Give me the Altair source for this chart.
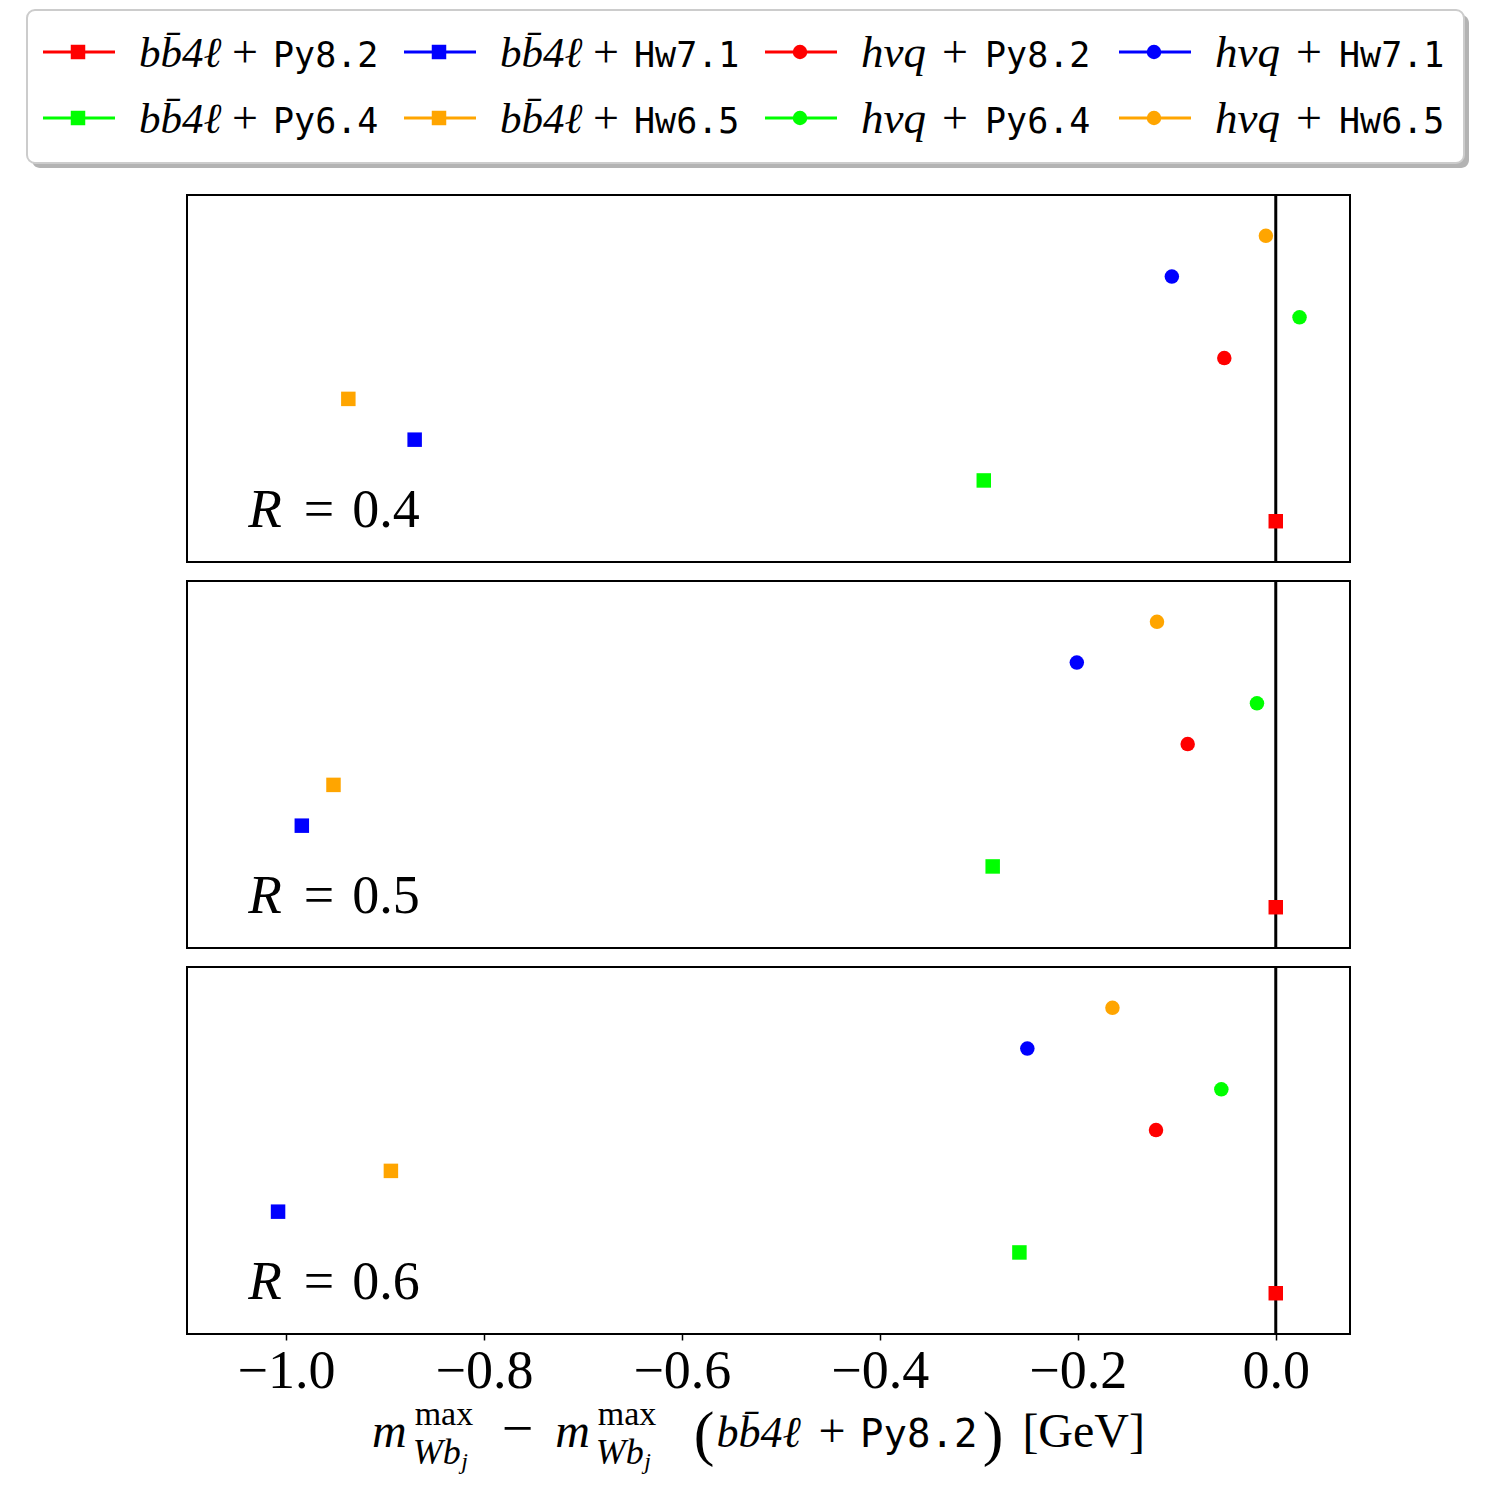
import altair as alt
import pandas as pd

# ---------------- data ----------------
generators = ["bb4l+Py8.2", "bb4l+Py6.4", "bb4l+Hw7.1", "bb4l+Hw6.5",
              "hvq+Py8.2", "hvq+Py6.4", "hvq+Hw7.1", "hvq+Hw6.5"]
gen_math = ["bb\u0304" + "4\u2113"] * 4 + ["hvq"] * 4
gen_tt = ["Py8.2", "Py6.4", "Hw7.1", "Hw6.5"] * 2
gen_kind = ["bb4l"] * 4 + ["hvq"] * 4
gen_colors = ["#ff0000", "#00ff00", "#0000ff", "#ffa500"] * 2
radii = ["0.4", "0.5", "0.6"]
shift_R04 = [0.000, -0.295, -0.870, -0.937, -0.052, 0.024, -0.105, -0.010]
shift_R05 = [0.000, -0.286, -0.984, -0.952, -0.089, -0.019, -0.201, -0.120]
shift_R06 = [0.000, -0.259, -1.008, -0.894, -0.121, -0.055, -0.251, -0.165]
x_ticks = [-1.0, -0.8, -0.6, -0.4, -0.2, 0.0]

# ---------------- layout / style ----------------
SERIF = "Liberation Serif"
MONO = "DejaVu Sans Mono"
X_DOMAIN = [-1.1, 0.075]
Y_DOMAIN = [-1, 8]
PW, PH = 1163, 367
LW, LH = 1445, 168
LEFT = 160  # legend box starts this far left of the panels

STYLES = {
    "it55": dict(font=SERIF, fontSize=55, fontStyle="italic"),
    "rm54": dict(font=SERIF, fontSize=54),
    "it48": dict(font=SERIF, fontSize=48, fontStyle="italic"),
    "it44": dict(font=SERIF, fontSize=44, fontStyle="italic"),
    "rm48": dict(font=SERIF, fontSize=48),
    "rm56": dict(font=SERIF, fontSize=56),
    "rm62": dict(font=SERIF, fontSize=62),
    "rm34": dict(font=SERIF, fontSize=34),
    "it36": dict(font=SERIF, fontSize=36, fontStyle="italic"),
    "it24": dict(font=SERIF, fontSize=24, fontStyle="italic"),
    "tt39": dict(font=MONO, fontSize=39),
    "it45": dict(font=SERIF, fontSize=45, fontStyle="italic"),
    "it43": dict(font=SERIF, fontSize=43, fontStyle="italic"),
    "rm46": dict(font=SERIF, fontSize=46),
    "tt35": dict(font=MONO, fontSize=35),
}


def ypx(px):
    """pixel offset from a panel's top -> y data units"""
    return Y_DOMAIN[1] - px * (Y_DOMAIN[1] - Y_DOMAIN[0]) / PH


def text_layers(pieces, xenc, yenc):
    d = pd.DataFrame(pieces, columns=["text", "x", "y", "style"])
    layers = []
    for st in dict.fromkeys(d["style"]):
        grp = d[d["style"] == st]
        layers.append(
            alt.Chart(grp).mark_text(align="left", baseline="alphabetic",
                                     color="black", **STYLES[st])
            .encode(x=xenc("x"), y=yenc("y"), text="text:N")
        )
    return layers


color_scale = alt.Scale(domain=generators, range=gen_colors)
shape_scale = alt.Scale(domain=["bb4l", "hvq"], range=["square", "circle"])

rows = []
for R, vals in zip(radii, [shift_R04, shift_R05, shift_R06]):
    for i, (g, v) in enumerate(zip(generators, vals)):
        rows.append({"R": R, "gen": g, "kind": gen_kind[i], "row": i, "shift": v})
df = pd.DataFrame(rows)

xscale = alt.Scale(domain=X_DOMAIN, nice=False, zero=False)
yscale = alt.Scale(domain=Y_DOMAIN, nice=False, zero=False)


def panel(R, bottom):
    if bottom:
        xaxis = alt.Axis(values=x_ticks, format=".1f", labelFont=SERIF,
                         labelFontSize=54, labelColor="black", tickColor="black",
                         tickSize=6, tickWidth=1.5, domain=False, grid=False,
                         labelPadding=4, title=None)
    else:
        xaxis = None

    def xenc(f):
        return alt.X(f"{f}:Q", scale=xscale, axis=xaxis)

    def yenc(f):
        return alt.Y(f"{f}:Q", scale=yscale, axis=None)

    rule = alt.Chart(pd.DataFrame({"x": [0.0]})).mark_rule(
        color="black", strokeWidth=3).encode(x=xenc("x"))
    pts = alt.Chart(df[df["R"] == R]).mark_point(
        filled=True, size=210, opacity=1).encode(
        x=xenc("shift"), y=yenc("row"),
        color=alt.Color("gen:N", scale=color_scale, legend=None),
        shape=alt.Shape("kind:N", scale=shape_scale, legend=None),
    )
    pieces = [
        ("R", -1.038, ypx(332), "it55"),
        ("=", -0.982, ypx(332), "rm54"),
        (R, -0.933, ypx(332), "rm54"),
    ]
    if bottom:
        base, sup, sub, subsub = ypx(480), ypx(458), ypx(497), ypx(502)
        pieces += [
            ("m", -0.913, base, "it48"),
            ("max", -0.870, sup, "rm34"),
            ("Wb", -0.872, sub, "it36"),
            ("j", -0.823, subsub, "it24"),
            ("\u2212", -0.782, base, "rm56"),
            ("m", -0.728, base, "it48"),
            ("max", -0.685, sup, "rm34"),
            ("Wb", -0.687, sub, "it36"),
            ("j", -0.638, subsub, "it24"),
            ("(", -0.588, ypx(487), "rm62"),
            ("bb\u0304" + "4\u2113", -0.565, base, "it44"),
            ("+", -0.462, base, "rm48"),
            ("Py8.2", -0.420, base, "tt39"),
            (")", -0.296, ypx(487), "rm62"),
            ("[GeV]", -0.256, base, "rm48"),
        ]
    layers = [rule, pts] + text_layers(pieces, xenc, yenc)
    return alt.layer(*layers).properties(width=PW, height=PH)


# ---------------- legend (drawn as its own small chart) ----------------
lx = alt.Scale(domain=[0, LW], range=[-LEFT, LW - LEFT], nice=False, zero=False)
ly = alt.Scale(domain=[LH, 0], nice=False, zero=False)


def lxe(f):
    return alt.X(f"{f}:Q", scale=lx, axis=None)


def lye(f):
    return alt.Y(f"{f}:Q", scale=ly, axis=None)


LEG_COL_X = [16, 377, 738, 1092]
LEG_ROW_Y = [42, 108]
leg_rows = []
text_pieces = []
for i, g in enumerate(generators):
    col, row = i // 2, i % 2
    x0 = LEG_COL_X[col]
    yl = LEG_ROW_Y[row]
    leg_rows.append({"gen": g, "kind": gen_kind[i], "x0": x0, "x1": x0 + 72,
                     "xm": x0 + 35, "y": yl})
    tx = x0 + 96
    if gen_kind[i] == "bb4l":
        plus_off, mono_off, mstyle = 93, 134, "it43"
    else:
        plus_off, mono_off, mstyle = 81, 124, "it45"
    text_pieces += [
        (gen_math[i], tx, yl + 15, mstyle),
        ("+", tx + plus_off, yl + 15, "rm46"),
        (gen_tt[i], tx + mono_off, yl + 15, "tt35"),
    ]
leg_df = pd.DataFrame(leg_rows)

box_df = pd.DataFrame({"x": [5, 0], "x2": [1442, 1437], "y": [5, 0], "y2": [158, 153],
                       "part": ["shadow", "box"]})
shadow = alt.Chart(box_df[box_df.part == "shadow"]).mark_rect(
    cornerRadius=8, fill="#a0a0a0", opacity=0.8).encode(
    x=lxe("x"), x2="x2:Q", y=lye("y"), y2="y2:Q")
box = alt.Chart(box_df[box_df.part == "box"]).mark_rect(
    cornerRadius=8, fill="white", stroke="#cccccc", strokeWidth=2).encode(
    x=lxe("x"), x2="x2:Q", y=lye("y"), y2="y2:Q")
leg_lines = alt.Chart(leg_df).mark_rule(strokeWidth=3).encode(
    x=lxe("x0"), x2="x1:Q", y=lye("y"),
    color=alt.Color("gen:N", scale=color_scale, legend=None))
leg_marks = alt.Chart(leg_df).mark_point(filled=True, size=210, opacity=1).encode(
    x=lxe("xm"), y=lye("y"),
    color=alt.Color("gen:N", scale=color_scale, legend=None),
    shape=alt.Shape("kind:N", scale=shape_scale, legend=None))

legend = alt.layer(
    shadow, box, leg_lines, leg_marks, *text_layers(text_pieces, lxe, lye)
).properties(width=PW, height=LH, view=alt.ViewBackground(stroke="transparent"))

chart = alt.vconcat(
    legend, panel("0.4", False), panel("0.5", False), panel("0.6", True),
    spacing=13,
).properties(
    padding={"left": 25, "top": 8, "right": 10, "bottom": 10},
    background="white",
).configure_view(stroke="black", strokeWidth=2)

chart.save("out.html", embed_options={"renderer": "svg", "actions": False})
